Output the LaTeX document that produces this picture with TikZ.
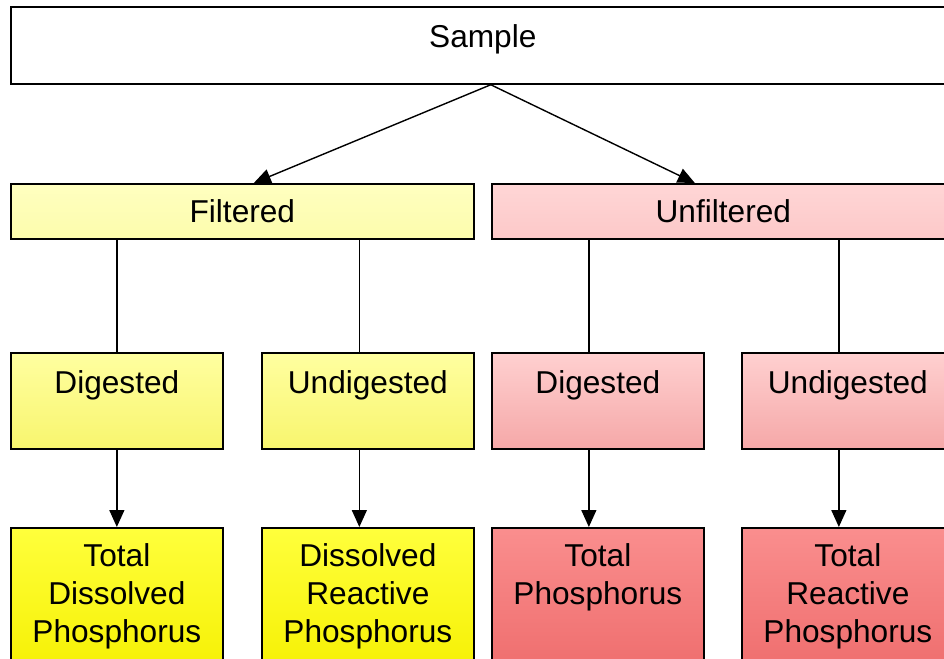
\documentclass[tikz,border=0pt]{standalone}
\usepackage{fontspec}
\setmainfont{Liberation Sans}
\usetikzlibrary{arrows.meta}

\begin{document}
\begin{tikzpicture}[x=0.02cm,y=-0.02cm,
	box_node/.style={rectangle,draw=black,line width=1pt,anchor=north west,inner sep=0pt,font=\fontsize{18}{21.5}\selectfont},
	top_node/.style={box_node,fill=white,minimum width=18.88cm,text height=0.82cm,text depth=0.72cm},
	split_node/.style={box_node,minimum width=9.26cm,minimum height=1.1cm},
	step_node/.style={box_node,minimum width=4.24cm,text height=0.82cm,text depth=1.1cm},
	end_node/.style={box_node,text width=4.24cm,align=center,text height=0.78cm,text depth=2.22cm},
	yellow1/.style={top color=yellow1top,bottom color=yellow1bot},
	yellow2/.style={top color=yellow2top,bottom color=yellow2bot},
	yellow3/.style={top color=yellow3top,bottom color=yellow3bot},
	pink1/.style={top color=pink1top,bottom color=pink1bot},
	pink2/.style={top color=pink2top,bottom color=pink2bot},
	pink3/.style={top color=pink3top,bottom color=pink3bot},
	arr/.style={-{Triangle[width=0.3cm,length=0.34cm]},line width=0.8pt},
	link/.style={line width=0.8pt}]

		\definecolor{yellow1top}{RGB}{255,255,192}
		\definecolor{yellow1bot}{RGB}{252,252,172}
		\definecolor{yellow2top}{RGB}{255,255,160}
		\definecolor{yellow2bot}{RGB}{248,245,110}
		\definecolor{yellow3top}{RGB}{255,255,60}
		\definecolor{yellow3bot}{RGB}{245,240,0}
		\definecolor{pink1top}{RGB}{255,214,214}
		\definecolor{pink1bot}{RGB}{252,200,200}
		\definecolor{pink2top}{RGB}{255,208,208}
		\definecolor{pink2bot}{RGB}{245,168,168}
		\definecolor{pink3top}{RGB}{250,142,142}
		\definecolor{pink3bot}{RGB}{238,108,108}

		\useasboundingbox (0,0) rectangle (944,659);
		\clip (0,0) rectangle (944,659);

		\node[top_node] (sample) at (10,6) {Sample};

		\node[split_node,yellow1] (filt) at (10,183) {Filtered};
		\node[split_node,pink1] (unfilt) at (491,183) {Unfiltered};

		\node[step_node,yellow2] (fdig) at (10,352) {Digested};
		\node[step_node,yellow2] (fundig) at (261,352) {Undigested};
		\node[step_node,pink2] (udig) at (491,352) {Digested};
		\node[step_node,pink2] (uundig) at (741,352) {Undigested};

		\node[end_node,yellow3] (tdp) at (10,527) {Total\\Dissolved\\Phosphorus};
		\node[end_node,yellow3] (drp) at (261,527) {Dissolved\\Reactive\\Phosphorus};
		\node[end_node,pink3] (tp) at (491,527) {Total\\Phosphorus};
		\node[end_node,pink3] (trp) at (741,527) {Total\\Reactive\\Phosphorus};

		% entry points of the lines, a little left of the box centres
		\coordinate (sample_out) at ([xshift=0.16cm]sample.south);
		\coordinate (fundig_in) at ([xshift=-0.17cm]fundig.north);
		\coordinate (udig_in) at ([xshift=-0.18cm]udig.north);
		\coordinate (uundig_in) at ([xshift=-0.18cm]uundig.north);

		\draw[arr] (sample_out) -- ([xshift=0.23cm]filt.north);
		\draw[arr] (sample_out) -- ([xshift=-0.57cm]unfilt.north);

		\draw[link] (filt.south -| fdig.north) -- (fdig.north);
		\draw[link] (filt.south -| fundig_in) -- (fundig_in);
		\draw[link] (unfilt.south -| udig_in) -- (udig_in);
		\draw[link] (unfilt.south -| uundig_in) -- (uundig_in);

		\draw[arr] (fdig.south) -- (tdp.north);
		\draw[arr] (fundig.south -| fundig_in) -- (drp.north -| fundig_in);
		\draw[arr] (udig.south -| udig_in) -- (tp.north -| udig_in);
		\draw[arr] (uundig.south -| uundig_in) -- (trp.north -| uundig_in);
		\end{tikzpicture}
\end{document}
